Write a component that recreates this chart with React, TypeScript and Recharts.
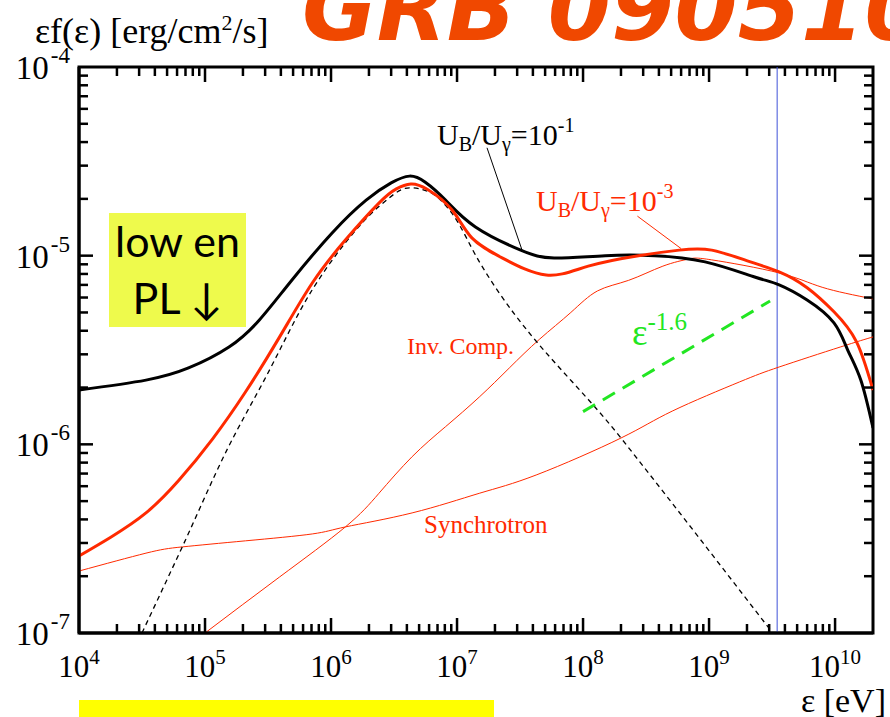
import React from 'react';
import { ComposedChart, Line, XAxis, YAxis, ReferenceLine, ReferenceArea } from 'recharts';

const WIDTH = 890;
const HEIGHT = 717;
const MARGIN = { top: 67, right: 17, bottom: 0, left: 0 };
const Y_AXIS_WIDTH = 79;
const X_AXIS_HEIGHT = 84;
const PLOT_TOP = MARGIN.top;
const PLOT_RIGHT = WIDTH - MARGIN.right;

const SERIF = '"Liberation Serif", "Times New Roman", serif';
const RED = '#ff2a00';
const GREEN = '#22e622';
const BLUE = '#3f51d9';

// axis ranges
const E_MIN = 1e4;
const E_MAX = 2e10;
const F_MIN = 1e-7;
const F_MAX = 1e-4;

// tick positions
const energyDecades = [1e4, 1e5, 1e6, 1e7, 1e8, 1e9, 1e10];
const fluxDecades = [1e-7, 1e-6, 1e-5, 1e-4];
const minorSteps = [2, 3, 4, 5, 6, 7, 8, 9];

// total spectrum, U_B/U_gamma = 1e-1
const totalHighE = [1e4, 3.4e4, 7.4e4, 1.55e5, 2.7e5, 4.9e5, 1.02e6, 1.9e6, 3.0e6, 4.2e6, 5.6e6, 8.1e6, 1.4e7, 3.2e7, 5.9e7, 1.5e8, 3.7e8, 9.3e8, 2.3e9, 3.6e9, 6e9, 9.8e9, 1.26e10, 1.6e10, 2e10];
const totalHighF = [1.94e-6, 2.19e-6, 2.54e-6, 3.28e-6, 4.56e-6, 7.43e-6, 1.32e-5, 1.97e-5, 2.43e-5, 2.64e-5, 2.45e-5, 1.97e-5, 1.42e-5, 1.07e-5, 9.73e-6, 1.0e-5, 1.0e-5, 9.27e-6, 7.71e-6, 7.0e-6, 5.82e-6, 4.4e-6, 3.16e-6, 2.19e-6, 1.22e-6];

// total spectrum, U_B/U_gamma = 1e-3
const totalLowE = [1e4, 1.8e4, 3.4e4, 6.2e4, 1.15e5, 2.1e5, 3.9e5, 7.1e5, 1.3e6, 2.4e6, 3.3e6, 4.3e6, 5.8e6, 9.1e6, 1.3e7, 2.3e7, 5.1e7, 1.1e8, 2.75e8, 5.8e8, 1.05e9, 2.1e9, 3.6e9, 6e9, 9.8e9, 1.48e10, 2e10];
const totalLowF = [2.56e-7, 3.23e-7, 4.33e-7, 6.45e-7, 1.07e-6, 1.9e-6, 3.7e-6, 7.16e-6, 1.21e-5, 1.9e-5, 2.26e-5, 2.4e-5, 2.25e-5, 1.75e-5, 1.25e-5, 9.7e-6, 7.9e-6, 8.8e-6, 1.0e-5, 1.07e-5, 1.07e-5, 9.3e-6, 8.2e-6, 6.76e-6, 5.04e-6, 3.49e-6, 1.94e-6];

// prompt (Band-like) component
const promptE = [3.16e4, 6.6e4, 1.5e5, 2.95e5, 7.1e5, 1.3e6, 2.4e6, 4.2e6, 6e6, 9.1e6, 1.5e7, 2e8, 3.2e9];
const promptF = [1e-7, 2.86e-7, 9.4e-7, 2.19e-6, 6.6e-6, 1.17e-5, 1.82e-5, 2.29e-5, 2.18e-5, 1.68e-5, 9.3e-6, 1.08e-6, 1e-7];

// inverse Compton component
const icE = [1e5, 3.9e5, 1.3e6, 2.4e6, 4.4e6, 8.1e6, 1.5e7, 2.6e7, 4.5e7, 8e7, 1.3e8, 2.3e8, 4.3e8, 6.9e8, 1.05e9, 3.6e9, 7.9e9, 2e10];
const icF = [1e-7, 1.98e-7, 3.65e-7, 5.5e-7, 8.6e-7, 1.24e-6, 1.78e-6, 2.54e-6, 3.6e-6, 5.0e-6, 6.5e-6, 7.4e-6, 8.8e-6, 9.6e-6, 9.5e-6, 8.1e-6, 6.8e-6, 5.9e-6];

// synchrotron component
const synE = [1e4, 3.4e4, 6.6e4, 2.1e5, 7.1e5, 1.3e6, 4.4e6, 1.5e7, 4.3e7, 2e8, 5.1e8, 1.74e9, 3.6e9, 1.1e10, 2e10];
const synF = [2.13e-7, 2.65e-7, 2.86e-7, 3.08e-7, 3.35e-7, 3.65e-7, 4.33e-7, 5.5e-7, 6.9e-7, 1.08e-6, 1.5e-6, 2.14e-6, 2.57e-6, 3.28e-6, 3.71e-6];

// photon index -1.6 reference slope
const slopeE = [1e8, 3.05e9];
const slopeF = [1.49e-6, 5.75e-6];

const cutoffEnergy = 3.47e9;

const zip = (e: number[], f: number[]) => e.map((x, i) => ({ e: x, f: f[i] }));

const energyTicks = [
  ...energyDecades,
  ...energyDecades.slice(0, -1).flatMap((d) => minorSteps.map((k) => k * d)),
  2e10,
].sort((a, b) => a - b);

const fluxTicks = [
  ...fluxDecades,
  ...fluxDecades.slice(0, -1).flatMap((d) => minorSteps.map((k) => k * d)),
].sort((a, b) => a - b);

const isDecade = (v: number) => Math.abs(Math.log10(v) - Math.round(Math.log10(v))) < 1e-9;

const EnergyTick = (props: any) => {
  const { x, y, payload } = props;
  const v = payload.value;
  const major = isDecade(v);
  const len = major ? 15 : 9;
  const edge = v <= E_MIN || v >= E_MAX;
  return (
    <g>
      {!edge && <line x1={x} y1={y} x2={x} y2={y - len} stroke="#000" strokeWidth={2.5} />}
      {!edge && <line x1={x} y1={PLOT_TOP} x2={x} y2={PLOT_TOP + len} stroke="#000" strokeWidth={2.5} />}
      {major && (
        <text x={x} y={y + 44} textAnchor="middle" fontFamily={SERIF} fontSize={31} fill="#000">
          10<tspan dy={-13} fontSize={21}>{Math.round(Math.log10(v))}</tspan>
        </text>
      )}
    </g>
  );
};

const FluxTick = (props: any) => {
  const { x, y, payload } = props;
  const v = payload.value;
  const major = isDecade(v);
  const len = major ? 14 : 9;
  const edge = v <= F_MIN || v >= F_MAX;
  return (
    <g>
      {!edge && <line x1={x} y1={y} x2={x + len} y2={y} stroke="#000" strokeWidth={2.5} />}
      {!edge && <line x1={PLOT_RIGHT} y1={y} x2={PLOT_RIGHT - len} y2={y} stroke="#000" strokeWidth={2.5} />}
      {major && (
        <text x={x - 9} y={y + 12} textAnchor="end" fontFamily={SERIF} fontSize={33} fill="#000">
          10<tspan dx={2} dy={-16} fontSize={23}>{Math.round(Math.log10(v))}</tspan>
        </text>
      )}
    </g>
  );
};

const Ratio = ({ x, y, fill, exp }: { x: number; y: number; fill: string; exp: string }) => (
  <text x={x} y={y} fontFamily={SERIF} fontSize={30} fill={fill}>
    U<tspan dy={6} fontSize={20}>B</tspan>
    <tspan dy={-6}>/U</tspan>
    <tspan dy={6} fontSize={20}>γ</tspan>
    <tspan dy={-6}>=10</tspan>
    <tspan dy={-13} fontSize={20}>{exp}</tspan>
  </text>
);

export default function App() {
  return (
    <div style={{ position: 'absolute', left: 0, top: 0, width: WIDTH, height: HEIGHT, background: '#fff' }}>
      <ComposedChart width={WIDTH} height={HEIGHT} margin={MARGIN}>
        <XAxis
          dataKey="e"
          type="number"
          scale="log"
          domain={[E_MIN, E_MAX]}
          allowDataOverflow
          ticks={energyTicks}
          interval={0}
          height={X_AXIS_HEIGHT}
          tickSize={0}
          tickMargin={0}
          tick={<EnergyTick />}
          axisLine={{ stroke: '#000', strokeWidth: 3 }}
        />
        <YAxis
          type="number"
          scale="log"
          domain={[F_MIN, F_MAX]}
          allowDataOverflow
          ticks={fluxTicks}
          interval={0}
          width={Y_AXIS_WIDTH}
          tickSize={0}
          tickMargin={0}
          tick={<FluxTick />}
          axisLine={{ stroke: '#000', strokeWidth: 3 }}
        />
        <ReferenceArea x1={E_MIN} x2={E_MAX} y1={F_MIN} y2={F_MAX} fill="none" stroke="#000" strokeWidth={3} />
        <ReferenceLine x={cutoffEnergy} stroke={BLUE} strokeWidth={1} />

        <Line data={zip(synE, synF)} dataKey="f" type="natural" stroke={RED} strokeWidth={1} dot={false} isAnimationActive={false} />
        <Line data={zip(icE, icF)} dataKey="f" type="natural" stroke={RED} strokeWidth={1} dot={false} isAnimationActive={false} />
        <Line data={zip(promptE, promptF)} dataKey="f" type="monotone" stroke="#000" strokeWidth={1.3} strokeDasharray="5 4" dot={false} isAnimationActive={false} />
        <Line data={zip(slopeE, slopeF)} dataKey="f" type="linear" stroke={GREEN} strokeWidth={3} strokeDasharray="14 9" dot={false} isAnimationActive={false} />
        <Line data={zip(totalHighE, totalHighF)} dataKey="f" type="natural" stroke="#000" strokeWidth={3} dot={false} isAnimationActive={false} />
        <Line data={zip(totalLowE, totalLowF)} dataKey="f" type="natural" stroke={RED} strokeWidth={3} dot={false} isAnimationActive={false} />

        <ReferenceLine segment={[{ x: 1.73e7, y: 3.73e-5 }, { x: 3.28e7, y: 1.07e-5 }]} stroke="#000" strokeWidth={1} />
        <ReferenceLine segment={[{ x: 2.7e8, y: 1.62e-5 }, { x: 6.0e8, y: 1.09e-5 }]} stroke={RED} strokeWidth={1} />
      </ComposedChart>

      <svg width={WIDTH} height={HEIGHT} style={{ position: 'absolute', left: 0, top: 0, pointerEvents: 'none' }}>
        <text x={302} y={40} fontFamily='"DejaVu Sans", sans-serif' fontWeight="bold" fontStyle="italic" fontSize={91} fill="#f04800">
          GRB 090510
        </text>
        <text x={35} y={43} fontFamily={SERIF} fontSize={36} fill="#000">
          εf(ε) [erg/cm<tspan dy={-13} fontSize={22}>2</tspan>
          <tspan dy={13}>/s]</tspan>
        </text>
        <text x={886} y={712} textAnchor="end" fontFamily={SERIF} fontSize={34} fill="#000">
          ε [eV]
        </text>
        <rect x={79} y={700} width={415} height={17} fill="#ffff00" />

        <rect x={109} y={213} width={137} height={114} fill="#eefa4c" />
        <text x={177.5} y={257} textAnchor="middle" fontFamily="Lato, sans-serif" fontSize={43} fill="#000">
          low en
        </text>
        <text x={177.5} y={314} textAnchor="middle" fontFamily="Lato, sans-serif" fontSize={43} fill="#000">
          PL ↓
        </text>

        <Ratio x={437} y={145} fill="#000" exp="-1" />
        <Ratio x={536} y={211} fill={RED} exp="-3" />
        <text x={407} y={354} fontFamily={SERIF} fontSize={24} fill={RED}>
          Inv. Comp.
        </text>
        <text x={424} y={533} fontFamily={SERIF} fontSize={25} fill={RED}>
          Synchrotron
        </text>
        <text x={632} y={345} fontFamily={SERIF} fontSize={37} fill={GREEN}>
          ε<tspan dy={-15} fontSize={25}>-1.6</tspan>
        </text>
      </svg>
    </div>
  );
}
